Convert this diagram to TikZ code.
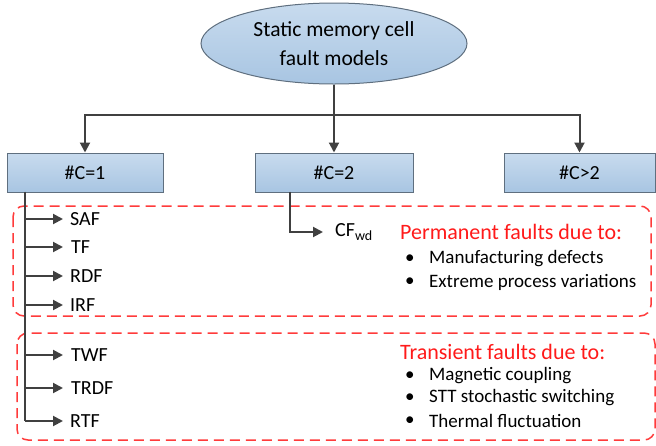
\documentclass[tikz,border=0pt]{standalone}
\usepackage{fontspec}
\setmainfont{Carlito}
\usetikzlibrary{arrows.meta,shapes.geometric,calc}
\definecolor{edgegray}{HTML}{5F6F7F}
\definecolor{boxtop}{HTML}{C8DBEE}
\definecolor{boxbot}{HTML}{A8C5E2}
\definecolor{arrgray}{HTML}{404040}
\definecolor{dashred}{HTML}{FF3B3B}
\definecolor{headred}{HTML}{FF1A1A}
\tikzset{
  boxnode/.style={draw=edgegray, line width=1pt, top color=boxtop, bottom color=boxbot, minimum height=39pt, font=\fontsize{20}{20}\selectfont},
  rootnode/.style={ellipse, draw=edgegray, line width=1pt, top color=boxtop, bottom color=boxbot, minimum width=266pt, minimum height=81pt, inner sep=0pt, align=center, font=\fontsize{21.5}{29}\selectfont},
  conn/.style={draw=arrgray, line width=2pt},
  arr/.style={conn, -{Triangle[length=10pt,width=10pt]}},
  lbl/.style={anchor=west, inner sep=0pt, font=\fontsize{20}{20}\selectfont},
  head/.style={anchor=west, inner sep=0pt, text=headred, font=\fontsize{22}{22}\selectfont},
  item/.style={anchor=west, inner sep=0pt, font=\fontsize{19}{19}\selectfont},
  reddash/.style={draw=dashred, line width=1.5pt, dash pattern=on 10pt off 6pt, rounded corners=11pt}
}
\begin{document}
\begin{tikzpicture}[x=1pt,y=-1pt]
\useasboundingbox (0,0) rectangle (656,445);
% red dashed regions
\draw[reddash] (13,206) rectangle (651,316);
\draw[reddash] (17,333) rectangle (655,440);
% root and boxes
\node[rootnode] (root) at (334,43.5) {Static memory cell\\fault models};
\node[boxnode, minimum width=156pt] (c1) at (85,172.5) {\#C=1};
\node[boxnode, minimum width=158pt] (c2) at (334,172.5) {\#C=2};
\node[boxnode, minimum width=151pt] (c3) at (579.5,172.5) {\#C>2};
\coordinate (j) at (334,115);
\draw[arr] (root.south) -- (j) -| (c1.north);
\draw[arr] (j) -| (c3.north);
\draw[arr] (j) -- (c2.north);
% #C=1 fault list
\node[lbl] (saf) at (70,219) {SAF};
\node[lbl] (tf) at (71,247) {TF};
\node[lbl] (rdf) at (70,276) {RDF};
\node[lbl] (irf) at (70,305) {IRF};
\node[lbl] (twf) at (71,355) {TWF};
\node[lbl] (trdf) at (71,388) {TRDF};
\node[lbl] (rtf) at (70,421) {RTF};
\coordinate (t1) at (25,191.5);
\draw[conn] (t1) -- (t1 |- rtf.west);
\foreach \n in {saf,tf,rdf,irf,twf,trdf,rtf}{
  \draw[arr, shorten >=7pt] (t1 |- \n.west) -- (\n.west -| 70,0);
}
% #C=2
\node[lbl] (cf) at (335,232) {CF\textsubscript{wd}};
\coordinate (t2) at (290,191.5);
\draw[arr, shorten >=12pt] (t2) |- (cf.west);
% permanent
\node[head] (ph) at (400,232) {Permanent faults due to:};
\node[item] (pb1) at (405,259) {•};
\node[item] (pi1) at (429,259) {Manufacturing defects};
\node[item] (pb2) at (405,282) {•};
\node[item] (pi2) at (429,282) {Extreme process variations};
% transient
\node[head] (th) at (400,352) {Transient faults due to:};
\node[item] (tb1) at (405,376) {•};
\node[item] (ti1) at (429,376) {Magnetic coupling};
\node[item] (tb2) at (405,398) {•};
\node[item] (ti2) at (429,398) {STT stochastic switching};
\node[item] (tb3) at (405,421) {•};
\node[item] (ti3) at (429,421) {Thermal fluctuation};
\end{tikzpicture}
\end{document}
